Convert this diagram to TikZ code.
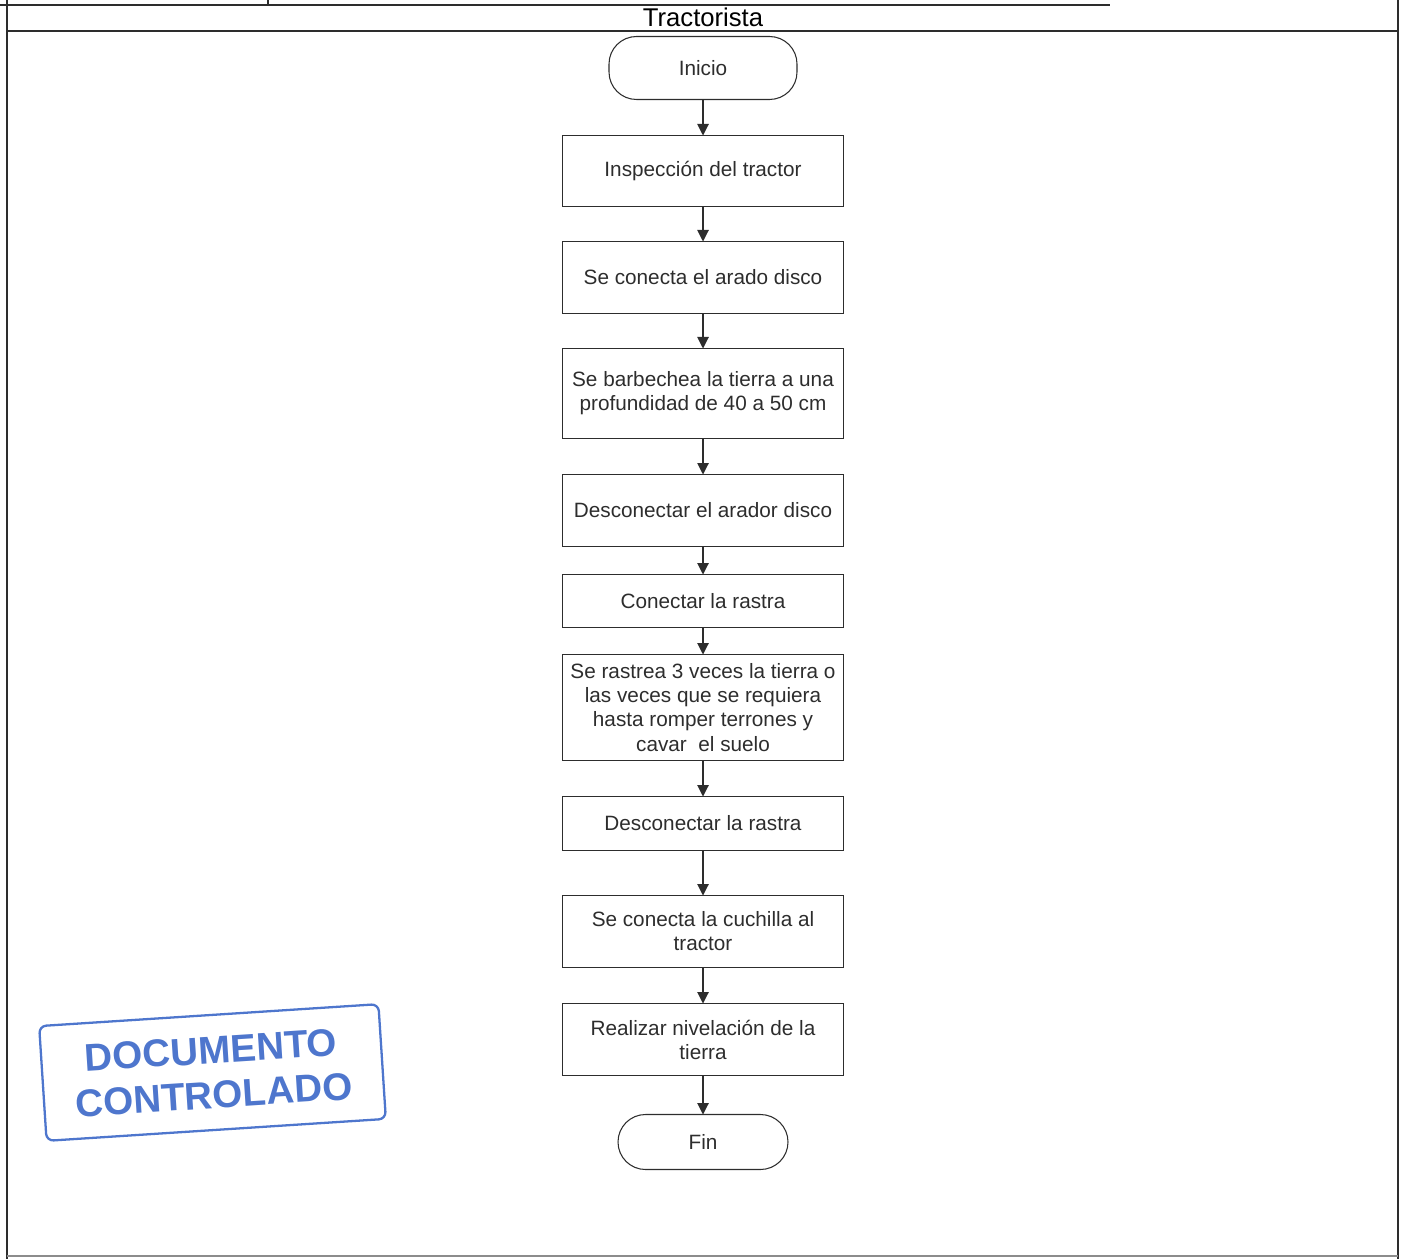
\documentclass[tikz,border=0pt]{standalone}
\usepackage{fontspec}
\setmainfont{Liberation Sans}
\usetikzlibrary{positioning,arrows.meta}

\definecolor{stampblue}{RGB}{78,118,205}
\definecolor{inkgray}{RGB}{45,45,45}

\tikzset{
  stepbox/.style={draw=inkgray, line width=0.6pt, minimum width=5.62cm, inner sep=0pt, outer sep=0pt,
    align=center, text=inkgray, font=\fontsize{11.8}{13.7}\selectfont},
  termbox/.style={stepbox, rounded corners=0.55cm},
  flow/.style={draw=inkgray, line width=0.6pt, -{Triangle[length=2.3mm,width=2.3mm]}},
}

\begin{document}
\begin{tikzpicture}

\useasboundingbox (0,0) rectangle (28.06,-25.18);

% ======================================
% THE FRAME
% ======================================
\draw[line width=0.8pt, inkgray] (0,-0.1) -- (22.2,-0.1);
\draw[line width=0.8pt, inkgray] (5.36,0) -- (5.36,-0.1);
\draw[line width=0.8pt, inkgray] (0.14,0) -- (0.14,-25.18);
\draw[line width=0.8pt, inkgray] (27.96,0) -- (27.96,-25.18);
\draw[line width=1pt, inkgray] (0.14,-0.62) -- (27.96,-0.62);
\draw[line width=0.6pt, black!45] (0.14,-25.12) -- (27.96,-25.12);

\node[text=black, font=\fontsize{14.6}{16}\selectfont] (role) at (14.06,-0.34) {Tractorista};

% ======================================
% THE FLOW
% ======================================
\node[termbox, minimum width=3.76cm, minimum height=1.26cm] (inicio) at (14.06,-1.36) {Inicio};

\node[stepbox, minimum height=1.42cm, below=0.72cm of inicio] (insp) {Inspección del tractor};
\node[stepbox, minimum height=1.44cm, below=0.70cm of insp] (arado) {Se conecta el arado disco};
\node[stepbox, minimum height=1.80cm, below=0.70cm of arado] (barb) {Se barbechea la tierra a una\\profundidad de 40 a 50 cm};
\node[stepbox, minimum height=1.44cm, below=0.72cm of barb] (desar) {Desconectar el arador disco};
\node[stepbox, minimum height=1.06cm, below=0.56cm of desar] (conras) {Conectar la rastra};
\node[stepbox, minimum height=2.12cm, below=0.54cm of conras] (rastrea) {Se rastrea 3 veces la tierra o\\las veces que se requiera\\hasta romper terrones y\\cavar \ el suelo};
\node[stepbox, minimum height=1.08cm, below=0.72cm of rastrea] (desras) {Desconectar la rastra};
\node[stepbox, minimum height=1.44cm, below=0.90cm of desras] (cuchilla) {Se conecta la cuchilla al\\tractor};
\node[stepbox, minimum height=1.44cm, below=0.72cm of cuchilla] (nivel) {Realizar nivelación de la\\tierra};

\node[termbox, minimum width=3.4cm, minimum height=1.1cm, below=0.78cm of nivel] (fin) {Fin};

\draw[flow] (inicio) -- (insp);
\draw[flow] (insp) -- (arado);
\draw[flow] (arado) -- (barb);
\draw[flow] (barb) -- (desar);
\draw[flow] (desar) -- (conras);
\draw[flow] (conras) -- (rastrea);
\draw[flow] (rastrea) -- (desras);
\draw[flow] (desras) -- (cuchilla);
\draw[flow] (cuchilla) -- (nivel);
\draw[flow] (nivel) -- (fin);

% ======================================
% THE STAMP
% ======================================
\node[draw=stampblue, line width=1.3pt, rounded corners=4pt, rotate=3.7,
  minimum width=6.8cm, minimum height=2.3cm, align=center, text=stampblue,
  font=\fontsize{22}{25.5}\selectfont\bfseries] (stamp) at (4.25,-21.45) {DOCUMENTO\\CONTROLADO};

\end{tikzpicture}
\end{document}
